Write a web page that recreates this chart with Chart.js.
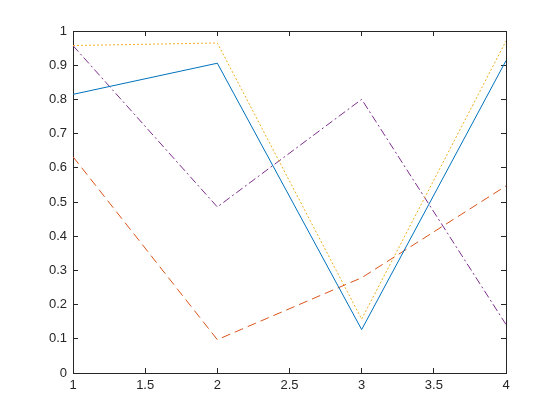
<!DOCTYPE html>
<html>
<head>
<meta charset="utf-8">
<script src="https://cdn.jsdelivr.net/npm/chart.js@4"></script>
<style>
  html, body { margin: 0; padding: 0; background: #fff; }
  #wrap { width: 560px; height: 420px; }
</style>
</head>
<body>
<div id="wrap"><canvas id="chart" width="560" height="420"></canvas></div>
<script>
// data
const xValues = [1, 2, 3, 4];
const series1 = [0.8147, 0.9058, 0.1270, 0.9134];
const series2 = [0.6324, 0.0975, 0.2785, 0.5469];
const series3 = [0.9575, 0.9649, 0.1576, 0.9706];
const series4 = [0.9572, 0.4854, 0.8003, 0.1419];
const xTicks = [1, 1.5, 2, 2.5, 3, 3.5, 4];
const yTicks = [0, 0.1, 0.2, 0.3, 0.4, 0.5, 0.6, 0.7, 0.8, 0.9, 1];

const axisColor = "#262626";
const tickFont = { family: "'Liberation Sans', Arial, sans-serif", size: 13 };

function toPoints(ys) {
    return xValues.map((x, i) => ({ x: x, y: ys[i] }));
}

// inward tick marks + full box, matlab style
const inwardGrid = { display: true, drawOnChartArea: false, drawTicks: true, tickLength: -5, color: axisColor, lineWidth: 1 };
const axisBorder = { display: true, color: axisColor, width: 1 };

const lineDefaults = { borderWidth: 1, pointRadius: 0, fill: false, tension: 0 };

new Chart(document.getElementById("chart").getContext("2d"), {
    type: "line",
    data: {
        datasets: [
            Object.assign({ data: toPoints(series1), borderColor: "#0072BD", borderDash: [] }, lineDefaults),
            Object.assign({ data: toPoints(series2), borderColor: "#D95319", borderDash: [9, 5] }, lineDefaults),
            Object.assign({ data: toPoints(series3), borderColor: "#EDB120", borderDash: [2, 2] }, lineDefaults),
            Object.assign({ data: toPoints(series4), borderColor: "#7E2F8E", borderDash: [8, 3, 2, 3] }, lineDefaults)
        ]
    },
    options: {
        responsive: false,
        animation: false,
        layout: { padding: { left: 0, top: 31, right: 54, bottom: 0 } },
        plugins: { legend: { display: false }, tooltip: { enabled: false } },
        scales: {
            x: {
                type: "linear",
                position: "bottom",
                min: 1, max: 4,
                afterBuildTicks: s => { s.ticks = xTicks.map(v => ({ value: v })); },
                afterFit: s => { s.height = 47; },
                grid: inwardGrid,
                border: axisBorder,
                ticks: {
                    color: axisColor,
                    font: tickFont,
                    padding: 10,
                    maxRotation: 0,
                    callback: v => String(v)
                }
            },
            y: {
                type: "linear",
                position: "left",
                min: 0, max: 1,
                afterBuildTicks: s => { s.ticks = yTicks.map(v => ({ value: v })); },
                afterFit: s => { s.width = 73; },
                grid: inwardGrid,
                border: axisBorder,
                ticks: {
                    color: axisColor,
                    font: tickFont,
                    padding: 11,
                    callback: v => String(Math.round(v * 10) / 10)
                }
            },
            x2: {
                type: "linear",
                position: "top",
                min: 1, max: 4,
                afterBuildTicks: s => { s.ticks = xTicks.map(v => ({ value: v })); },
                afterFit: s => { s.height = 0; },
                grid: inwardGrid,
                border: axisBorder,
                ticks: { display: false }
            },
            y2: {
                type: "linear",
                position: "right",
                min: 0, max: 1,
                afterBuildTicks: s => { s.ticks = yTicks.map(v => ({ value: v })); },
                afterFit: s => { s.width = 0; },
                grid: inwardGrid,
                border: axisBorder,
                ticks: { display: false }
            }
        }
    }
});
</script>
</body>
</html>
